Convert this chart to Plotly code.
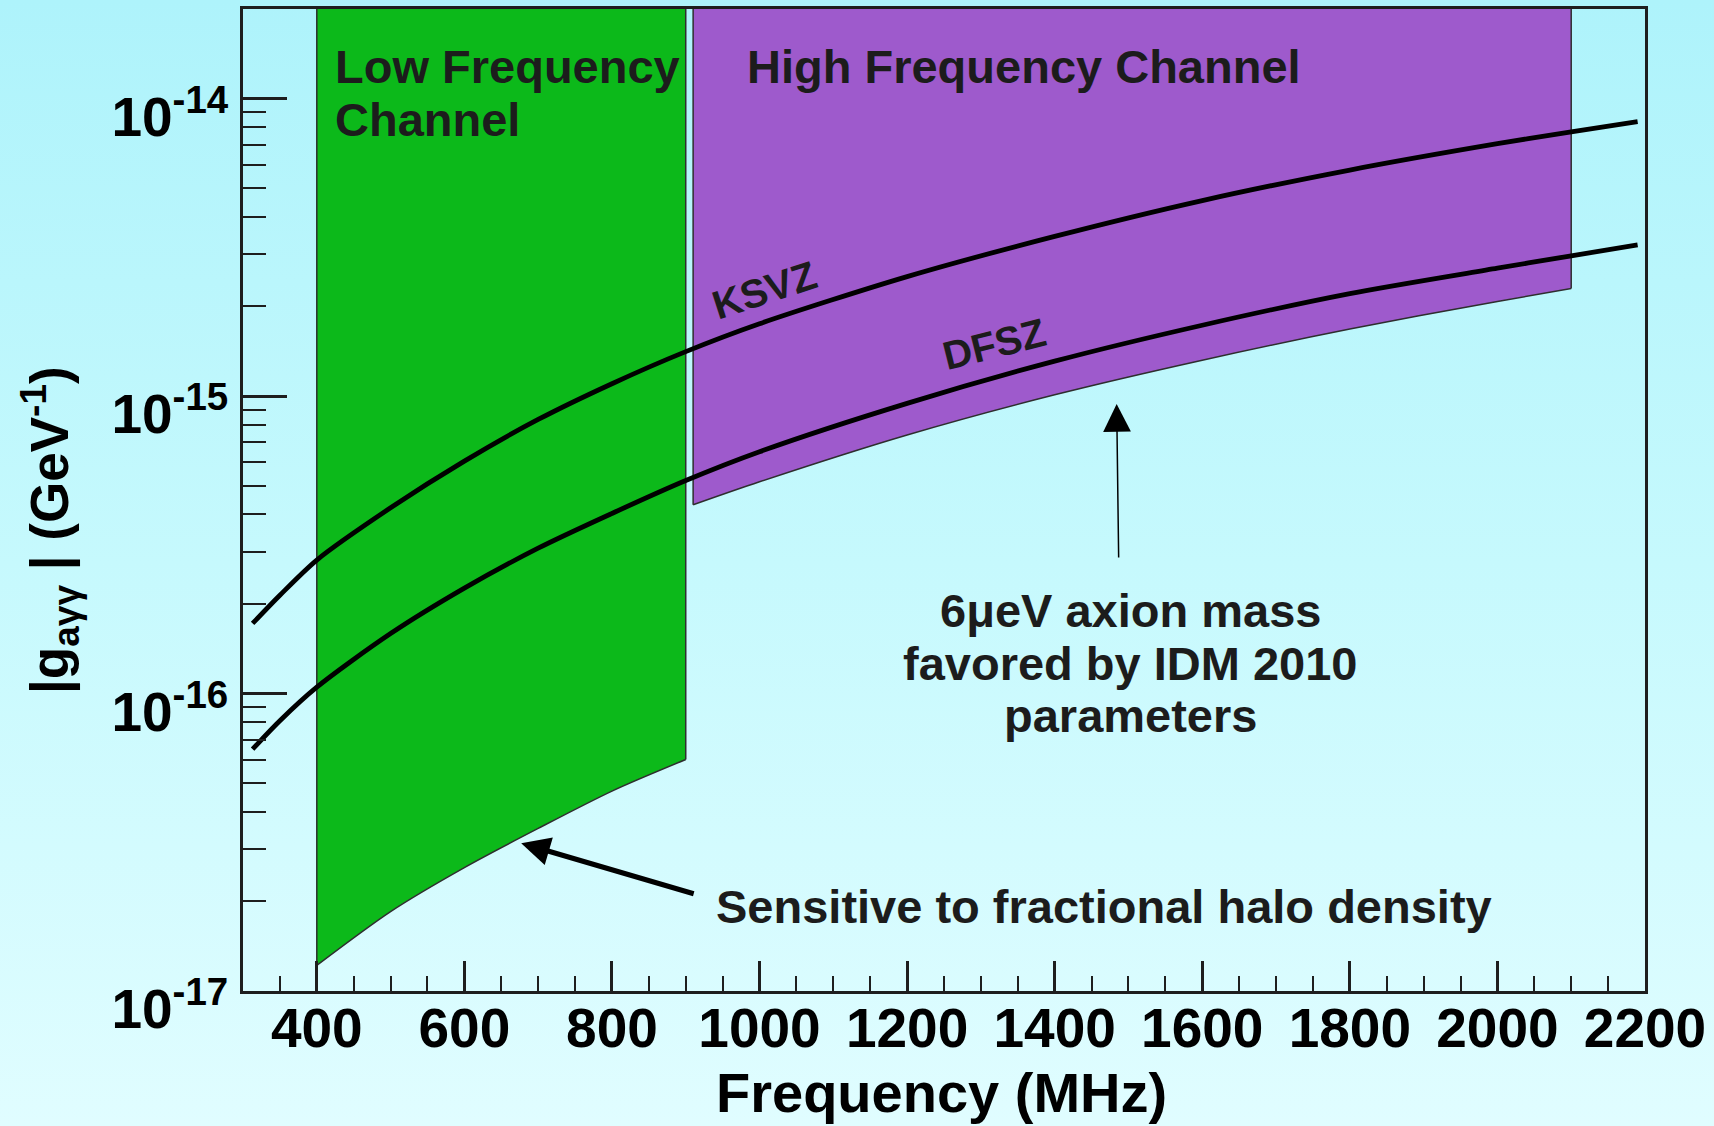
import numpy as np
import plotly.graph_objects as go

W, H = 1714, 1126

# ---------------- data ----------------
FREQ = [313, 350, 400, 500, 600, 700, 800, 900, 1000, 1200, 1400, 1600, 1800, 2000, 2100, 2190]
KSVZ = [1.72e-16, 2.14e-16, 2.81e-16, 4.21e-16, 6.04e-16, 8.34e-16, 1.10e-15, 1.41e-15,
        1.75e-15, 2.52e-15, 3.44e-15, 4.54e-15, 5.75e-15, 7.05e-15, 7.73e-15, 8.36e-15]
DFSZ = [6.50e-17, 8.10e-17, 1.05e-16, 1.59e-16, 2.26e-16, 3.08e-16, 4.03e-16, 5.20e-16,
        6.50e-16, 9.45e-16, 1.31e-15, 1.73e-15, 2.21e-15, 2.69e-15, 2.96e-15, 3.22e-15]

LF_FREQ = [400, 500, 600, 700, 800, 900]
LF_LOWER = [1.22e-17, 1.85e-17, 2.60e-17, 3.52e-17, 4.70e-17, 6.00e-17]

HF_FREQ = [910, 1000, 1200, 1400, 1600, 1800, 2000, 2100]
HF_LOWER = [4.31e-16, 5.15e-16, 7.40e-16, 1.01e-15, 1.32e-15, 1.68e-15, 2.08e-15, 2.30e-15]

BAND_TOP = 2.0e-14

X_RANGE = [300, 2200]
X_TICKS = [400, 600, 800, 1000, 1200, 1400, 1600, 1800, 2000, 2200]
Y_TICKS = [1e-17, 1e-16, 1e-15, 1e-14]
Y_TICK_TEXT = ["10<sup>-17</sup>", "10<sup>-16</sup>", "10<sup>-15</sup>", "10<sup>-14</sup>"]
Y_MINOR = [k * 10.0 ** e for e in range(-17, -13) for k in range(2, 10) if k * 10.0 ** e < BAND_TOP * 0.999]

# ---------------- layout geometry (pixels) ----------------
PX0, PX1, PY0, PY1 = 243, 1645, 9, 991


def xp(X):
    return X / W


def yp(Y):
    return 1 - Y / H


FONT = "Liberation Sans"
AX = "#1e1e1e"
GREEN = "#0cb91a"
PURPLE = "#9e5acc"
EDGE = "#2e2e2e"

fig = go.Figure()

# background gradient (full page)
fig.add_trace(go.Scatter(
    x=[0, 1, 1, 0, 0], y=[0, 0, 1, 1, 0], xaxis="x", yaxis="y",
    mode="lines", line=dict(width=0), fill="toself",
    fillgradient=dict(type="vertical", start=0, stop=1,
                      colorscale=[[0, "#e0fdff"], [0.5, "#c6f9fd"], [1, "#aef3fb"]]),
    hoverinfo="skip", showlegend=False))


def band(freq, lower, color):
    # invisible upper edge at the top of the band
    fig.add_trace(go.Scatter(
        x=freq, y=[BAND_TOP] * len(freq), xaxis="x2", yaxis="y2", mode="lines",
        line=dict(width=0, shape="spline"), hoverinfo="skip", showlegend=False))
    # lower boundary, filled up to the upper edge
    fig.add_trace(go.Scatter(
        x=freq, y=lower, xaxis="x2", yaxis="y2", mode="lines", fill="tonexty",
        fillcolor=color, line=dict(color=EDGE, width=1.5, shape="spline", smoothing=0.8),
        hoverinfo="skip", showlegend=False))
    # vertical edges
    for i in (0, -1):
        fig.add_trace(go.Scatter(
            x=[freq[i], freq[i]], y=[lower[i], BAND_TOP], xaxis="x2", yaxis="y2",
            mode="lines", line=dict(color=EDGE, width=1.5), hoverinfo="skip",
            showlegend=False))


band(LF_FREQ, LF_LOWER, GREEN)
band(HF_FREQ, HF_LOWER, PURPLE)

# model lines
for vals in (KSVZ, DFSZ):
    fig.add_trace(go.Scatter(
        x=FREQ, y=vals, xaxis="x2", yaxis="y2", mode="lines",
        line=dict(color="#000000", width=4.8, shape="spline", smoothing=0.8),
        hoverinfo="skip", showlegend=False))

annotations = []


def label(text, X, Y, size=47, xanchor="left", angle=0):
    annotations.append(dict(
        text=text, xref="paper", yref="paper", x=xp(X), y=yp(Y),
        xanchor=xanchor, yanchor="middle", showarrow=False, textangle=angle,
        font=dict(family=FONT, size=size, color="#1c1c1c", weight="bold")))


label("Low Frequency", 333, 66)
label("Channel", 333, 119)
label("High Frequency Channel", 745, 66)
label("6μeV axion mass", 1130, 610, xanchor="center")
label("favored by IDM 2010", 1130, 663, xanchor="center")
label("parameters", 1130, 716, xanchor="center")
label("Sensitive to fractional halo density", 714, 906)
label("KSVZ", 764, 290, size=40, xanchor="center", angle=-18)
label("DFSZ", 994, 344, size=40, xanchor="center", angle=-14)

# axis titles
annotations.append(dict(
    text="|g<sub>aγγ</sub> | (GeV<sup>-1</sup>)", xref="paper", yref="paper",
    x=xp(50), y=yp(530), xanchor="center", yanchor="middle", textangle=-90,
    showarrow=False, font=dict(family=FONT, size=53, color="#000", weight="bold")))
annotations.append(dict(
    text="Frequency (MHz)", xref="paper", yref="paper",
    x=xp(941), y=yp(1092), xanchor="center", yanchor="middle",
    showarrow=False, font=dict(family=FONT, size=56, color="#000", weight="bold")))

# arrows
ARROW_HALO = dict(x=677, y=3.14e-17, ax=174, ay=51)
ARROW_MASS = dict(x=1484, y=9.4e-16, ax=2, ay=155)
annotations.append(dict(
    xref="x2", yref="y2", x=ARROW_HALO["x"], y=np.log10(ARROW_HALO["y"]),
    ax=ARROW_HALO["ax"], ay=ARROW_HALO["ay"], text="", showarrow=True,
    arrowhead=2, arrowsize=1.15, arrowwidth=5, arrowcolor="#000", standoff=0))
annotations.append(dict(
    xref="x2", yref="y2", x=ARROW_MASS["x"], y=np.log10(ARROW_MASS["y"]),
    ax=ARROW_MASS["ax"], ay=ARROW_MASS["ay"], text="", showarrow=True,
    arrowhead=2, arrowsize=3.7, arrowwidth=1.5, arrowcolor="#000", standoff=0))

tickfont = dict(family=FONT, size=55, color="#000", weight="bold")

fig.update_layout(
    width=W, height=H, autosize=False,
    margin=dict(l=0, r=0, t=0, b=0, pad=0, autoexpand=False),
    paper_bgcolor="#c6f9fd", plot_bgcolor="rgba(0,0,0,0)",
    showlegend=False,
    xaxis=dict(domain=[0, 1], range=[0, 1], visible=False, fixedrange=True, automargin=False),
    yaxis=dict(domain=[0, 1], range=[0, 1], visible=False, fixedrange=True, automargin=False),
    xaxis2=dict(
        domain=[xp(PX0), xp(PX1)], anchor="y2", range=X_RANGE, automargin=False,
        showline=True, linecolor=AX, linewidth=2.5, mirror=True,
        showgrid=False, zeroline=False,
        tickmode="array", tickvals=X_TICKS, ticks="inside", ticklen=30,
        tickwidth=2.5, tickcolor=AX, tickfont=tickfont, ticklabelstandoff=-13,
        minor=dict(tickmode="linear", tick0=0, dtick=50, ticks="inside",
                   ticklen=15, tickwidth=2, tickcolor=AX, showgrid=False)),
    yaxis2=dict(
        domain=[yp(PY1), yp(PY0)], anchor="x2", type="log", automargin=False,
        range=[-17, np.log10(BAND_TOP)],
        showline=True, linecolor=AX, linewidth=2.5, mirror=True,
        showgrid=False, zeroline=False,
        tickmode="array", tickvals=Y_TICKS, ticktext=Y_TICK_TEXT,
        ticks="inside", ticklen=44, tickwidth=2.5, tickcolor=AX,
        tickfont=tickfont, ticklabelstandoff=1, ticklabelshift=18,
        minor=dict(tickmode="array", tickvals=Y_MINOR, ticks="inside",
                   ticklen=23, tickwidth=2, tickcolor=AX, showgrid=False)),
    annotations=annotations,
)

fig.write_html("out.html")
